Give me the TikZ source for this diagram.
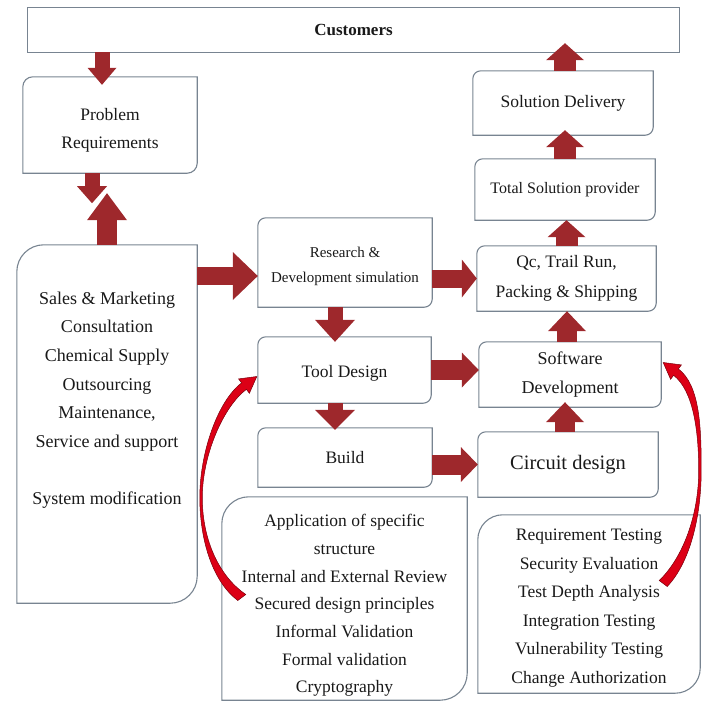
\documentclass[tikz,border=0pt]{standalone}
\usepackage{fontspec}
\setmainfont{Liberation Serif}
\newfontfamily\boxfont{Liberation Serif}
\usetikzlibrary{positioning}
\usetikzlibrary{calc}
\usetikzlibrary{arrows.meta}

\definecolor{arrowred}{RGB}{158,40,44}
\definecolor{curvered}{RGB}{220,0,22}
\definecolor{framegray}{RGB}{120,132,145}

\newcommand{\fsz}[2]{\boxfont\fontsize{#1}{#2}\selectfont}
\newcommand{\diagframe}[2]{%
	\draw[boxframe] (#1.south west) -- ([yshift=-#2]#1.north west)
		arc[start angle=180, end angle=90, radius=#2]
		-- (#1.north east) -- ([yshift=#2]#1.south east)
		arc[start angle=0, end angle=-90, radius=#2] -- cycle;}

\begin{document}
\begin{tikzpicture}[x=1pt,y=-1pt]
		\tikzset{box/.style = {inner sep=0pt, align=center, text=black!90, font=\fsz{17.5}{28}},
			boxframe/.style = {draw=framegray, line width=1.1pt},
			fat/.style n args = {3}{draw=arrowred, line width=#1, -{Triangle[width=#2, length=#3, line width=0pt]}},
			curvearrow/.style = {fill=curvered, draw=curvered!55!black, line width=0.5pt}}
		\useasboundingbox (0,0) rectangle (711,702);
		
		\node[box, minimum width=651pt, minimum height=44pt, font=\fsz{17}{20}\bfseries] (CUSTOMERS) at (353.5,30) {Customers};
		\draw[boxframe] (CUSTOMERS.south west) rectangle (CUSTOMERS.north east);
		
		\node[box, minimum width=174pt, minimum height=96pt] (PROBLEM) at (110,125) {};
		\node[box] (PROBLEMTEXT) at ([yshift=-5pt]PROBLEM.center) {Problem\\Requirements};
		\node[box, minimum width=180pt, minimum height=358pt] (SALES) at (107,424) {};
		\node[box, font=\fsz{18}{28.7}] (SALESTEXT) at ([yshift=-155pt]SALES.north)
		{Sales \& Marketing\\
			Consultation\\
			Chemical Supply\\
			Outsourcing\\
			Maintenance,\\
			Service and support\\[28pt]
			System modification};
		
		\node[box, minimum width=174pt, minimum height=89pt] (RESEARCH) at (345,262.5) {};
		\node[box, font=\fsz{15}{25}] (RESEARCHTEXT) at ([yshift=-4pt]RESEARCH.center) {Research \&\\Development simulation};
		\node[box, minimum width=173pt, minimum height=66pt] (TOOL) at (344.5,370) {};
		\node[box] (TOOLTEXT) at ([yshift=-3pt]TOOL.center) {Tool Design};
		\node[box, minimum width=174pt, minimum height=59pt] (BUILD) at (345,457.5) {Build};
		\node[box, minimum width=245pt, minimum height=203pt] (APPLICATION) at (344.5,598.5) {};
		\node[box, font=\fsz{17.5}{27.7}] (APPLICATIONTEXT) at ([yshift=-7pt]APPLICATION.center)
		{Application of specific\\
			structure\\
			Internal and External Review\\
			Secured design principles\\
			Informal Validation\\
			Formal validation\\
			Cryptography};
		
		\node[box, minimum width=180pt, minimum height=64pt] (DELIVERY) at (563,103) {Solution Delivery};
		\node[box, minimum width=180pt, minimum height=61pt, font=\fsz{16}{20}] (TOTAL) at (565,189.5) {Total Solution provider};
		\node[box, minimum width=179pt, minimum height=65pt, font=\fsz{17.5}{30}] (QC) at (566.5,278.5) {Qc, Trail Run,\\Packing \& Shipping};
		\node[box, minimum width=182pt, minimum height=65pt, font=\fsz{18}{29}] (SOFTWARE) at (570,374.5) {Software\\Development};
		\node[box, minimum width=180pt, minimum height=65pt, font=\fsz{20.5}{24}] (CIRCUIT) at (568,464.5) {Circuit design};
		\node[box, minimum width=222pt, minimum height=178pt] (TESTING) at (589,604) {};
		\node[box, font=\fsz{17.5}{28.6}] (TESTINGTEXT) at ([yshift=-4pt]TESTING.center)
		{Requirement Testing\\
			Security Evaluation\\
			Test Depth Analysis\\
			Integration Testing\\
			Vulnerability Testing\\
			Change Authorization};
		
		\diagframe{PROBLEM}{10pt}
		\diagframe{SALES}{27pt}
		\diagframe{RESEARCH}{8pt}
		\diagframe{TOOL}{8pt}
		\diagframe{BUILD}{8pt}
		\diagframe{APPLICATION}{27pt}
		\diagframe{DELIVERY}{8pt}
		\diagframe{TOTAL}{8pt}
		\diagframe{QC}{8pt}
		\diagframe{SOFTWARE}{8pt}
		\diagframe{CIRCUIT}{8pt}
		\diagframe{TESTING}{25pt}
		
		\coordinate (PROBDOWN) at ([xshift=-18pt,yshift=-30pt]PROBLEM.south);
		\coordinate (SALESUP) at ([yshift=-20pt]PROBLEM.south -| SALES.north);
		\draw[fat={15pt}{29pt}{17pt}] ([xshift=-8pt]PROBLEM.north |- CUSTOMERS.south) -- ([xshift=-8pt,yshift=-8pt]PROBLEM.north);
		\draw[fat={15pt}{30pt}{17pt}] ([xshift=-18pt]PROBLEM.south) -- (PROBDOWN);
		\draw[fat={20pt}{40pt}{27pt}] (SALES.north) -- (SALESUP);
		\draw[fat={18pt}{48pt}{25pt}] ([yshift=-13.5pt]RESEARCH.west -| SALES.east) -- ([yshift=-13.5pt]RESEARCH.west);
		\draw[fat={18pt}{38pt}{15pt}] (QC.west -| RESEARCH.east) -- (QC.west);
		\draw[fat={15pt}{40pt}{22pt}] ([xshift=-10pt]RESEARCH.south) -- ([xshift=-10pt,yshift=-5pt]RESEARCH.south |- TOOL.north);
		\draw[fat={15pt}{40pt}{20pt}] ([xshift=-9.5pt]TOOL.south) -- ([xshift=-9.5pt,yshift=-2pt]TOOL.south |- BUILD.north);
		\draw[fat={20pt}{35pt}{17pt}] (TOOL.east) -- (TOOL.east -| SOFTWARE.west);
		\draw[fat={20pt}{35pt}{17pt}] (CIRCUIT.west -| BUILD.east) -- (CIRCUIT.west);
		\draw[fat={20pt}{38pt}{20pt}] ([xshift=-3pt]CIRCUIT.north) -- ([xshift=-3pt,yshift=5pt]CIRCUIT.north |- SOFTWARE.south);
		\draw[fat={20pt}{38pt}{20pt}] ([xshift=-3pt]SOFTWARE.north) -- ([xshift=-3pt]SOFTWARE.north |- QC.south);
		\draw[fat={22pt}{38pt}{17pt}] (QC.north) -- (QC.north |- TOTAL.south);
		\draw[fat={22pt}{38pt}{17pt}] (TOTAL.north) -- ([yshift=5pt]TOTAL.north |- DELIVERY.south);
		\draw[fat={22pt}{38pt}{17pt}] ([xshift=2pt]DELIVERY.north) -- ([xshift=2pt,yshift=9pt]DELIVERY.north |- CUSTOMERS.south);
		
		\begin{scope}[shift={($(TOOL.west)+(-1,6.5)$)}]
			\draw[curvearrow] (-15.2,6.4) .. controls (-39,24.4) and (-57,76) .. (-57,121) .. controls (-57,166) and (-43,206) .. (-19,224) -- (-11,218) .. controls (-36,201) and (-54.5,166) .. (-54.5,121) .. controls (-54.5,78) and (-33,29.6) .. (-10.4,12.8) -- (-7.4,16.8) -- (0,0) -- (-18.2,2.4) -- cycle;
		\end{scope}
		\begin{scope}[shift={($(SOFTWARE.east)+(2,-12)$)}]
			\draw[curvearrow] (15.2,6.4) .. controls (37,23) and (38,66) .. (38,108) .. controls (38,156) and (26,201) .. (4,224) -- (-4,218) .. controls (19,196) and (35.5,154) .. (35.5,108) .. controls (35.5,68) and (30,28) .. (10.4,12.8) -- (7.4,16.8) -- (0,0) -- (18.2,2.4) -- cycle;
		\end{scope}
		
\end{tikzpicture}
\end{document}
